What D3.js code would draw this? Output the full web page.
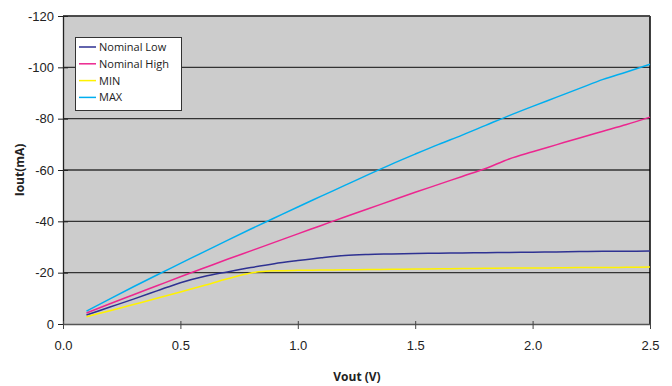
<!DOCTYPE html>
<html>
<head>
<meta charset="utf-8">
<script src="https://cdn.jsdelivr.net/npm/d3@7"></script>
<style>
  body { margin: 0; background: #fff; }
  svg { display: block; font-family: "Open Sans", "Noto Sans", sans-serif; }
</style>
</head>
<body>
<svg id="chart" width="672" height="386"></svg>
<script>
const vout = [0.1,0.2,0.3,0.4,0.5,0.6,0.7,0.8,0.9,1.0,1.1,1.2,1.3,1.4,1.5,1.6,1.7,1.8,1.9,2.0,2.1,2.2,2.3,2.4,2.5];
const nominalLow  = [-3.5,-6.6,-9.7,-12.9,-16.1,-18.5,-20.3,-22.0,-23.5,-24.7,-25.8,-26.7,-27.1,-27.3,-27.5,-27.6,-27.7,-27.8,-27.9,-28.0,-28.1,-28.2,-28.3,-28.3,-28.4];
const nominalHigh = [-4.3,-7.9,-11.4,-14.9,-18.4,-21.8,-25.2,-28.5,-31.8,-35.1,-38.4,-41.7,-44.9,-48.1,-51.3,-54.4,-57.5,-60.6,-64.3,-67.1,-69.8,-72.5,-75.1,-77.7,-80.6];
const minVals     = [-2.8,-5.2,-7.6,-10.0,-12.5,-15.0,-17.6,-19.9,-20.7,-20.9,-21.0,-21.1,-21.2,-21.3,-21.4,-21.5,-21.6,-21.7,-21.8,-21.8,-21.9,-22.0,-22.0,-22.1,-22.2];
const maxVals     = [-5.0,-9.8,-14.5,-19.1,-23.6,-28.1,-32.6,-37.0,-41.3,-45.6,-49.8,-54.0,-58.2,-62.3,-66.2,-70.0,-73.6,-77.4,-81.2,-84.8,-88.3,-91.8,-95.3,-98.2,-101.2];
const seriesNames = ["Nominal Low","Nominal High","MIN","MAX"];
const seriesColors = ["#2e3192","#ec268f","#fff200","#00aeef"];
const xTicks = [0.0,0.5,1.0,1.5,2.0,2.5];
const yTicks = [0,-20,-40,-60,-80,-100,-120];

const seriesData = [nominalLow, nominalHigh, minVals, maxVals];

const svg = d3.select("#chart");
const L = 63, R = 650, T = 16, B = 324;
const x = d3.scaleLinear().domain([0, 2.5]).range([L, R]);
const y = d3.scaleLinear().domain([0, -120]).range([B, T]);

// plot background
svg.append("rect").attr("x", L).attr("y", T).attr("width", R - L).attr("height", B - T).attr("fill", "#cccccc");

// gridlines
svg.append("g").selectAll("line").data(yTicks.filter(d => d !== 0)).join("line")
  .attr("x1", L).attr("x2", R).attr("y1", d => y(d)).attr("y2", d => y(d))
  .attr("stroke", "#333").attr("stroke-width", 1.3);

// right border
svg.append("line").attr("x1", R).attr("x2", R).attr("y1", T).attr("y2", B).attr("stroke", "#000").attr("stroke-width", 1.5);
// top border
svg.append("line").attr("x1", L).attr("x2", R).attr("y1", T).attr("y2", T).attr("stroke", "#444").attr("stroke-width", 1.5);

// lines
const line = d3.line().x((d, i) => x(vout[i])).y(d => y(d)).curve(d3.curveMonotoneX);
seriesData.forEach((s, k) => {
  svg.append("path").datum(s).attr("d", line).attr("fill", "none")
    .attr("stroke", seriesColors[k]).attr("stroke-width", 1.5);
});

// y axis
const yAxis = d3.axisLeft(y).tickValues(yTicks).tickFormat(d => String(d)).tickSize(5).tickSizeOuter(0);
const gy = svg.append("g").attr("transform", `translate(${L},0)`).call(yAxis);
gy.select(".domain").attr("stroke", "#222").attr("stroke-width", 1.3);
gy.selectAll(".tick line").attr("stroke", "#222").attr("x2", -5).attr("x1", 5);
gy.selectAll(".tick text").attr("font-size", 13).attr("fill", "#222").attr("x", -9);

// x axis
const xAxis = d3.axisBottom(x).tickValues(xTicks).tickFormat(d3.format(".1f")).tickSize(5).tickSizeOuter(0);
const gx = svg.append("g").attr("transform", `translate(0,${B})`).call(xAxis);
gx.select(".domain").attr("stroke", "#555").attr("stroke-width", 1.5);
gx.selectAll(".tick line").attr("stroke", "#444").attr("y1", -3).attr("y2", 5);
gx.selectAll(".tick text").attr("font-size", 13).attr("fill", "#222").attr("y", 17);

// axis titles
svg.append("text").attr("x", 357).attr("y", 381).attr("text-anchor", "middle")
  .attr("font-size", 12).attr("font-weight", "bold").attr("fill", "#222").text("Vout (V)");
svg.append("text").attr("transform", "translate(24,170) rotate(-90)").attr("text-anchor", "middle")
  .attr("font-size", 12).attr("font-weight", "bold").attr("fill", "#222").text("Iout(mA)");

// legend
const lg = svg.append("g");
lg.append("rect").attr("x", 75.5).attr("y", 37.5).attr("width", 106).attr("height", 73)
  .attr("fill", "#fff").attr("stroke", "#333").attr("stroke-width", 1);
seriesNames.forEach((n, i) => {
  const yy = 47 + i * 16.8;
  lg.append("line").attr("x1", 79).attr("x2", 96).attr("y1", yy).attr("y2", yy)
    .attr("stroke", seriesColors[i]).attr("stroke-width", 1.5);
  lg.append("text").attr("x", 99).attr("y", yy + 4).attr("font-size", 11).attr("fill", "#222").text(n);
});
</script>
</body>
</html>
